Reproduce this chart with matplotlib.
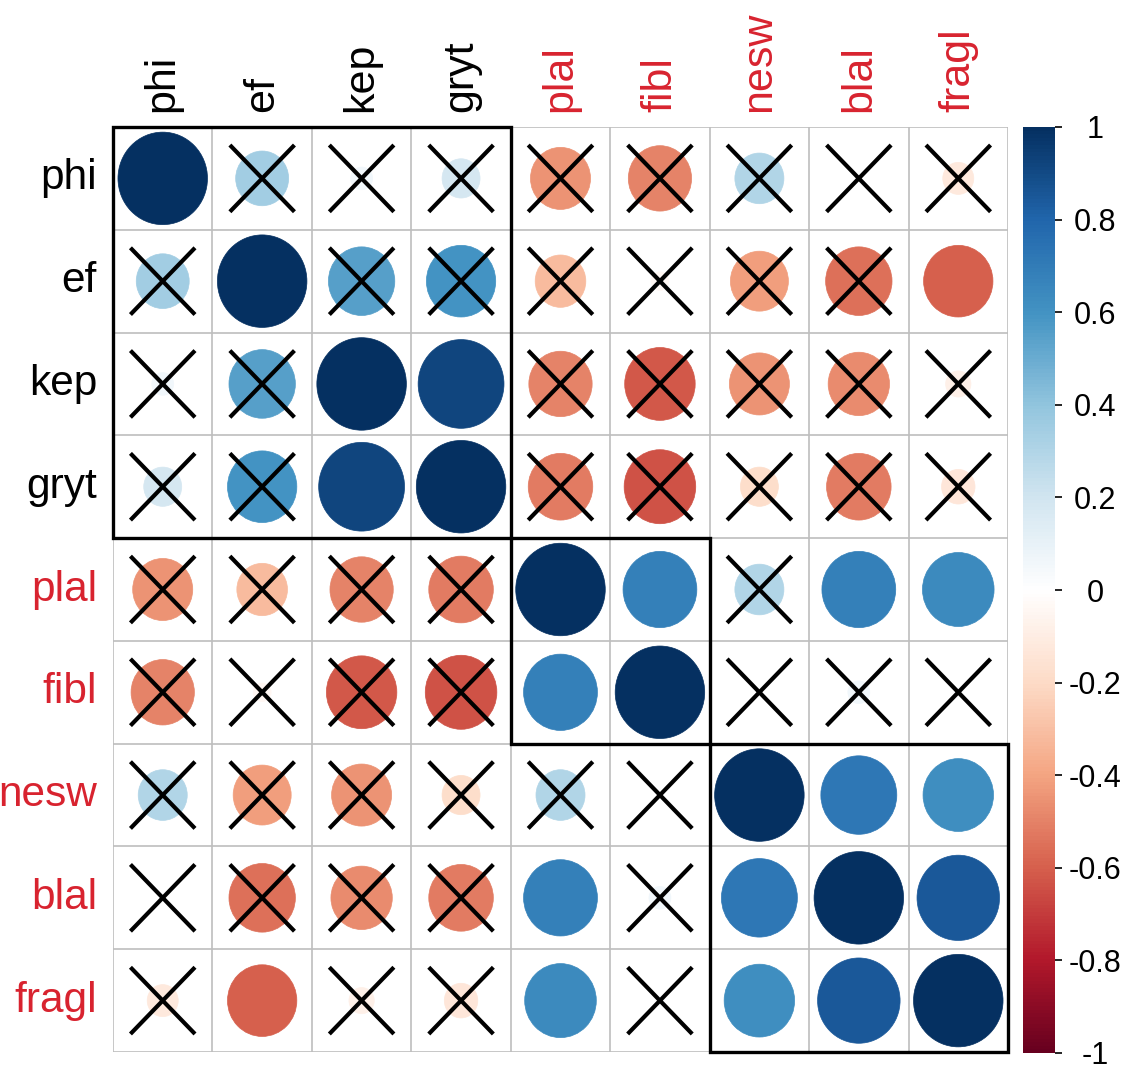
import numpy as np
import matplotlib
matplotlib.use("Agg")
import matplotlib.pyplot as plt
from matplotlib.colors import LinearSegmentedColormap, Normalize
from matplotlib.patches import Ellipse, Rectangle
from matplotlib.cm import ScalarMappable

plt.rcParams['font.family'] = ['Liberation Sans', 'DejaVu Sans']

# variable names, in plotted order
labels = ["phi", "ef", "kep", "gryt", "plal", "fibl", "nesw", "blal", "fragl"]
label_red = [False, False, False, False, True, True, True, True, True]

# correlation rows
r_phi = [1.00, 0.35, 0.06, 0.18, -0.45, -0.50, 0.30, 0.00, -0.12]
r_ef = [0.35, 1.00, 0.55, 0.60, -0.32, -0.04, -0.42, -0.55, -0.60]
r_kep = [0.06, 0.55, 1.00, 0.92, -0.50, -0.62, -0.45, -0.47, -0.08]
r_gryt = [0.18, 0.60, 0.92, 1.00, -0.52, -0.64, -0.18, -0.52, -0.14]
r_plal = [-0.45, -0.32, -0.50, -0.52, 1.00, 0.68, 0.30, 0.68, 0.64]
r_fibl = [-0.50, -0.04, -0.62, -0.64, 0.68, 1.00, 0.00, 0.06, 0.01]
r_nesw = [0.30, -0.42, -0.45, -0.18, 0.30, 0.00, 1.00, 0.72, 0.62]
r_blal = [0.00, -0.55, -0.47, -0.52, 0.68, 0.06, 0.72, 1.00, 0.85]
r_fragl = [-0.12, -0.60, -0.08, -0.14, 0.64, 0.01, 0.62, 0.85, 1.00]

# 1 = significant (no cross), 0 = crossed out
s_phi = [1, 0, 0, 0, 0, 0, 0, 0, 0]
s_ef = [0, 1, 0, 0, 0, 0, 0, 0, 1]
s_kep = [0, 0, 1, 1, 0, 0, 0, 0, 0]
s_gryt = [0, 0, 1, 1, 0, 0, 0, 0, 0]
s_plal = [0, 0, 0, 0, 1, 1, 0, 1, 1]
s_fibl = [0, 0, 0, 0, 1, 1, 0, 0, 0]
s_nesw = [0, 0, 0, 0, 0, 0, 1, 1, 1]
s_blal = [0, 0, 0, 0, 1, 0, 1, 1, 1]
s_fragl = [0, 1, 0, 0, 1, 0, 1, 1, 1]

# cluster boxes: (first index, size)
clusters = [(0, 4), (4, 2), (6, 3)]

cbar_ticks = [1, 0.8, 0.6, 0.4, 0.2, 0, -0.2, -0.4, -0.6, -0.8, -1]

corr = np.array([r_phi, r_ef, r_kep, r_gryt, r_plal, r_fibl, r_nesw, r_blal, r_fragl])
signif = np.array([s_phi, s_ef, s_kep, s_gryt, s_plal, s_fibl, s_nesw, s_blal, s_fragl])

cmap = LinearSegmentedColormap.from_list("rdbu2", [
    "#67001F", "#B2182B", "#D6604D", "#F4A582", "#FDDBC7", "#FFFFFF",
    "#D1E5F0", "#92C5DE", "#4393C3", "#2166AC", "#053061"])
norm = Normalize(-1, 1)
red = "#D8232F"

W, H = 1128, 1068
fig = plt.figure(figsize=(W / 100, H / 100), dpi=100)
ax = fig.add_axes([113 / W, 1 - 1052 / H, 895 / W, 925 / H])
n = len(labels)
ax.set_xlim(0, n)
ax.set_ylim(n, 0)
ax.axis("off")

# grid
for k in range(n + 1):
    ax.plot([k, k], [0, n], color="#BEBEBE", lw=1.2, zorder=1)
    ax.plot([0, n], [k, k], color="#BEBEBE", lw=1.2, zorder=1)

for i in range(n):
    for j in range(n):
        v = corr[i, j]
        d = 0.9 * np.sqrt(abs(v))
        if d > 0:
            ax.add_patch(Ellipse((j + 0.5, i + 0.5), d, d, facecolor=cmap(norm(v)),
                                 edgecolor=cmap(norm(v)), lw=0.5, zorder=2))
        if not signif[i, j]:
            c = 0.31
            ax.plot([j + 0.5 - c, j + 0.5 + c], [i + 0.5 - c, i + 0.5 + c], color="black", lw=3, zorder=3)
            ax.plot([j + 0.5 - c, j + 0.5 + c], [i + 0.5 + c, i + 0.5 - c], color="black", lw=3, zorder=3)

for start, size in clusters:
    ax.add_patch(Rectangle((start, start), size, size, fill=False, edgecolor="black",
                           lw=2.4, zorder=4, clip_on=False))

# labels
for k, lab in enumerate(labels):
    col = red if label_red[k] else "black"
    ax.text(-0.16, k + 0.5, lab, ha="right", va="center", fontsize=30.5, color=col, clip_on=False)
    ax.text(k + 0.5, -0.15, lab, ha="center", va="bottom", rotation=90, fontsize=31,
            color=col, clip_on=False)

# colour legend
cax = fig.add_axes([1023 / W, 1 - 1053 / H, 32 / W, 926 / H])
sm = ScalarMappable(norm=norm, cmap=cmap)
cb = fig.colorbar(sm, cax=cax, ticks=cbar_ticks)
cb.outline.set_visible(False)
cax.yaxis.set_ticks_position("right")
cax.tick_params(axis="y", length=5, width=1.2, pad=24, labelsize=22)
cax.set_yticklabels([f"{t:g}" for t in cbar_ticks])
for lbl in cax.get_yticklabels():
    lbl.set_ha("center")

fig.savefig("out.png", dpi=100)
